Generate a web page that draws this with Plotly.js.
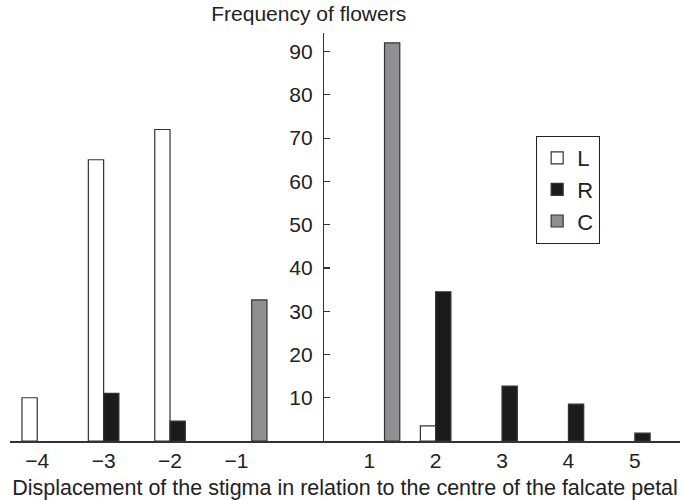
<!DOCTYPE html>
<html>
<head>
<meta charset="utf-8">
<script src="https://cdn.plot.ly/plotly-3.0.1.min.js"></script>
<style>html,body{margin:0;padding:0;background:#fff;}#chart{width:683px;height:500px;}</style>
</head>
<body>
<div id="chart"></div>
<script>
// Data
const categories = [-4, -3, -2, -1, 1, 2, 3, 4, 5];
const tickLabels = ['\u22124', '\u22123', '\u22122', '\u22121', '1', '2', '3', '4', '5'];
const seriesNames = ['L', 'R', 'C'];
const valuesL = [10, 65, 72, null, null, 3.5, null, null, null];
const valuesR = [null, 11, 4.6, null, null, 34.5, 12.7, 8.5, 1.8];
const valuesC = [null, null, null, 32.6, 92, null, null, null, null];
const yTicks = [10, 20, 30, 40, 50, 60, 70, 80, 90];

const FONT = 'Liberation Sans, Arial, Helvetica, sans-serif';
const INK = '#222';
const W = 0.23;

function barTrace(name, vals, color, offset) {
  return {
    type: 'bar', name: name, x: categories, y: vals,
    width: W, offset: offset, legendgroup: name,
    marker: {color: color, line: {color: '#333', width: 1.2}},
    hoverinfo: 'x+y+name'
  };
}

const data = [
  barTrace(seriesNames[0], valuesL, '#ffffff', -W),
  barTrace(seriesNames[1], valuesR, '#1b1b1b', 0),
  barTrace(seriesNames[2], valuesC, '#8f8f91', W)
];

const layout = {
  width: 683, height: 500,
  margin: {l: 10, r: 3, t: 33, b: 59, pad: 0},
  paper_bgcolor: '#fff', plot_bgcolor: '#fff',
  font: {family: FONT, size: 21, color: INK},
  barmode: 'overlay',
  showlegend: true,
  title: {
    text: 'Frequency of flowers',
    font: {family: FONT, size: 21, color: INK},
    x: 0.452, xref: 'container', xanchor: 'center',
    y: 0.972, yref: 'container', yanchor: 'middle'
  },
  xaxis: {
    range: [-4.41, 5.68],
    tickmode: 'array', tickvals: categories, ticktext: tickLabels,
    ticks: '', showgrid: false, zeroline: false,
    showline: true, linecolor: '#333', linewidth: 1.5,
    tickfont: {family: FONT, size: 21, color: INK},
    title: {text: 'Displacement of the stigma in relation to the centre of the falcate petal',
            font: {family: FONT, size: 21.5, color: INK}, standoff: 9},
    fixedrange: true
  },
  yaxis: {
    range: [0, 94.3],
    anchor: 'free', position: 0.467, side: 'left',
    tickmode: 'array', tickvals: yTicks,
    ticks: 'inside', ticklen: 6, tickwidth: 1.2, tickcolor: '#333',
    ticklabelstandoff: 6,
    showgrid: false, zeroline: false,
    showline: true, linecolor: '#333', linewidth: 1.5,
    tickfont: {family: FONT, size: 21, color: INK},
    fixedrange: true
  },
  legend: {
    x: 0.785, y: 0.748, xanchor: 'left', yanchor: 'top',
    bordercolor: '#222', borderwidth: 1.2, bgcolor: '#fff',
    font: {family: FONT, size: 22, color: INK},
    traceorder: 'grouped', tracegroupgap: 0,
    itemwidth: 30
  }
};

Plotly.newPlot('chart', data, layout, {displayModeBar: false, staticPlot: true});
</script>
</body>
</html>
